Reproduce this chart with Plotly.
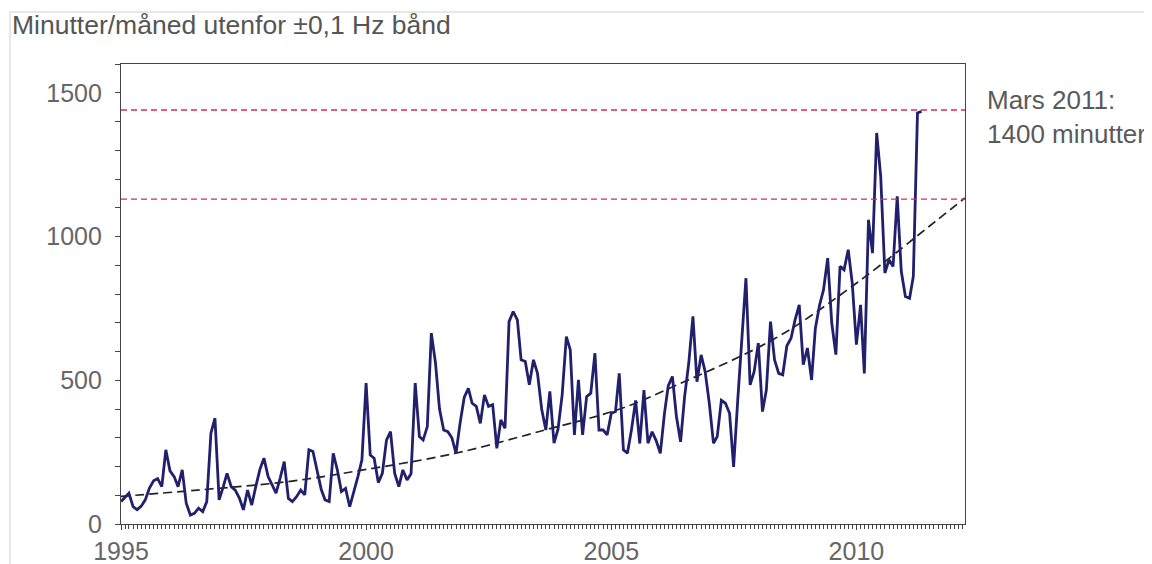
import pandas as pd
import plotly.graph_objects as go

# Monthly minutes outside ±0.1 Hz band, starting January 1995
minutes = [
    78, 95, 107, 60, 50, 62, 84, 125, 150, 158, 130, 258,
    185, 165, 130, 188, 72, 31, 37, 55, 43, 78, 316, 368,
    84, 130, 176, 130, 118, 90, 49, 118, 66, 130, 190, 229,
    165, 135, 107, 160, 217, 89, 78, 95, 118, 101, 258, 252,
    180, 120, 84, 78, 246, 188, 113, 124, 60, 110, 165, 223,
    490, 240, 229, 144, 176, 292, 321, 176, 130, 188, 153, 175,
    490, 304, 292, 339, 664, 560, 400, 327, 321, 300, 246, 350,
    440, 472, 420, 409, 350, 449, 409, 415, 263, 362, 333, 704,
    739, 710, 571, 565, 484, 571, 524, 400, 327, 461, 281, 330,
    450, 652, 606, 310, 501, 310, 443, 455, 594, 327, 327, 310,
    385, 391, 524, 258, 246, 330, 430, 280, 466, 281, 321, 290,
    246, 385, 480, 513, 374, 286, 443, 560, 722, 495, 588, 530,
    420, 281, 304, 430, 420, 385, 199, 432, 640, 855, 484, 530,
    629, 391, 466, 704, 571, 524, 519, 620, 646, 710, 762, 554,
    612, 501, 680, 760, 815, 925, 700, 589, 896, 884, 954, 838,
    624, 762, 524, 1058, 942, 1360, 1209, 873, 919, 896, 1140, 880,
    791, 785, 861, 1430, 1435,
]
start_month = "1995-01-01"

# Trend curve (read at points along the dashed line)
trend_dates = ["1995-01-01", "1996-07-26", "1998-05-22", "1999-12-10",
               "2001-10-26", "2003-08-25", "2005-03-05", "2006-05-07",
               "2008-05-07", "2010-01-08", "2011-08-11", "2012-03-20"]
trend_values = [96, 118, 147, 188, 246, 327, 400, 484, 646, 840, 1052, 1134]

ref_levels = [1440, 1130]
title_text = "Minutter/måned utenfor ±0,1 Hz bånd"
note_text = "Mars 2011:<br>1400 minutter"
x_range = ["1995-01-01", "2012-03-20"]
y_range = [0, 1600]
y_ticks = [0, 500, 1000, 1500]

dates = pd.date_range(start_month, periods=len(minutes), freq="MS")

# plot area in figure pixels
L, R, T, B = 113, 957, 56, 516
W, H = R - L, B - T

fig = go.Figure()
fig.add_trace(go.Scatter(x=trend_dates, y=trend_values, mode="lines",
                         line=dict(color="#222222", width=1.7, dash="9px,5px", shape="spline"),
                         hoverinfo="skip", showlegend=False))
fig.add_trace(go.Scatter(x=dates, y=minutes, mode="lines",
                         line=dict(color="#20206c", width=2.8),
                         showlegend=False))
for lvl in ref_levels:
    fig.add_shape(type="line", xref="paper", x0=0, x1=1, yref="y", y0=lvl, y1=lvl,
                  line=dict(color="#d62a62", width=1.4, dash="6px,4px"))

# light outer frame (top and left)
fx, fy = (2 - L) / W, (B - 4) / H
fig.add_shape(type="line", xref="paper", yref="paper",
              x0=fx, x1=1.3, y0=fy, y1=fy, line=dict(color="#d0d0d0", width=1))
fig.add_shape(type="line", xref="paper", yref="paper",
              x0=fx, x1=fx, y0=-0.2, y1=fy, line=dict(color="#d0d0d0", width=1))

fig.add_annotation(text=note_text, xref="paper", yref="paper",
                   x=(977 - L) / W, y=(B - 109) / H, xanchor="left", yanchor="middle",
                   align="left", showarrow=False,
                   font=dict(size=26, color="#5a5a5a", family="Liberation Sans, Arial, sans-serif"))

fig.update_layout(
    width=1152, height=564,
    margin=dict(l=L, r=1152 - R, t=T, b=564 - B, autoexpand=False),
    paper_bgcolor="white", plot_bgcolor="white",
    font=dict(family="Liberation Sans, Arial, sans-serif", size=25, color="#666666"),
    title=dict(text=title_text, x=4 / 1152, xanchor="left", xref="container",
               y=1 - 17 / 564, yanchor="middle", yref="container",
               font=dict(size=26.5, color="#555555")),
)
fig.update_xaxes(type="date", range=x_range, showgrid=False, zeroline=False,
                 showline=True, linecolor="#444444", linewidth=1.2, mirror=True,
                 automargin=False,
                 tick0="1995-01-01", dtick="M60", tickformat="%Y",
                 ticks="outside", ticklen=5, tickcolor="#444444",
                 minor=dict(dtick="M1", ticks="outside", ticklen=4, tickcolor="#444444"),
                 tickfont=dict(size=25, color="#666666"))
fig.update_yaxes(range=y_range, showgrid=False, zeroline=False,
                 showline=True, linecolor="#444444", linewidth=1.2, mirror=True,
                 automargin=False, ticklabelstandoff=8,
                 tickvals=y_ticks, ticks="outside", ticklen=5, tickcolor="#444444",
                 minor=dict(dtick=100, ticks="outside", ticklen=5, tickcolor="#444444"),
                 tickfont=dict(size=25, color="#666666"))

fig.write_html("out.html")
